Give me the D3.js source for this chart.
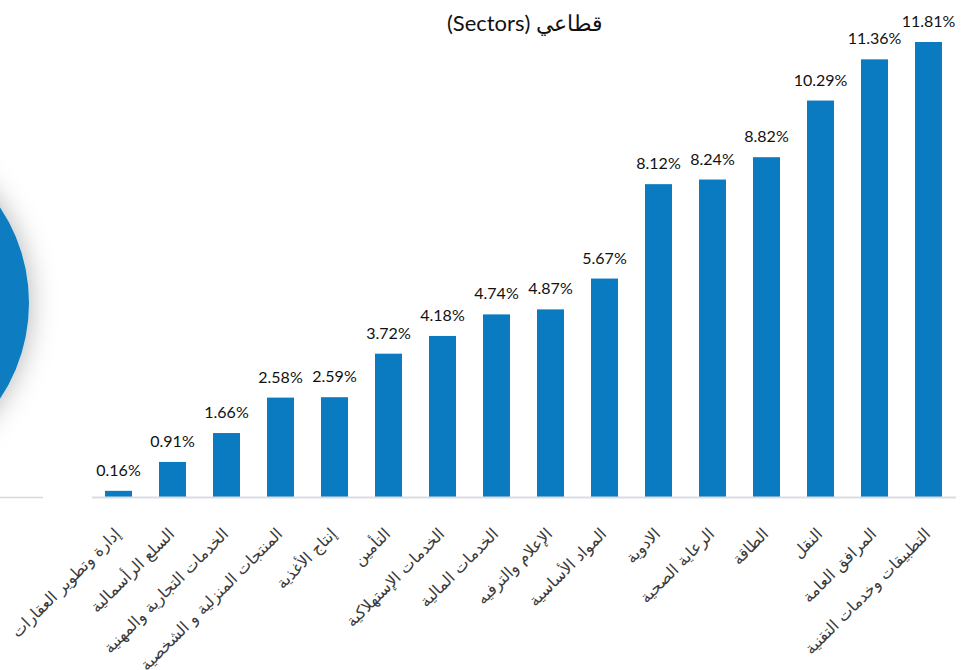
<!DOCTYPE html>
<html>
<head>
<meta charset="utf-8">
<script src="https://cdn.jsdelivr.net/npm/d3@7"></script>
<style>
  html, body { margin: 0; padding: 0; background: #fff; }
  svg { display: block; }
</style>
</head>
<body>
<svg id="chart"></svg>
<script>
// sector names, smallest share first
const sectors = [
  "إدارة وتطوير العقارات",
  "السلع الرأسمالية",
  "الخدمات التجارية والمهنية",
  "المنتجات المنزلية و الشخصية",
  "إنتاج الأغذية",
  "التأمين",
  "الخدمات الإستهلاكية",
  "الخدمات المالية",
  "الإعلام والترفيه",
  "المواد الأساسية",
  "الادوية",
  "الرعاية الصحية",
  "الطاقة",
  "النقل",
  "المرافق العامة",
  "التطبيقات وخدمات التقنية"
];
const shares = [0.16, 0.91, 1.66, 2.58, 2.59, 3.72, 4.18, 4.74, 4.87, 5.67, 8.12, 8.24, 8.82, 10.29, 11.36, 11.81];
const title = "قطاعي (Sectors)";

const size = { width: 964, height: 670 };
const blue = "#0a7bc0";

const svg = d3.select("#chart")
  .attr("width", size.width)
  .attr("height", size.height);

// soft shadow for the circle peeking in from the left
const defs = svg.append("defs");
const shadow = defs.append("filter")
  .attr("id", "glow")
  .attr("x", "-50%").attr("y", "-50%")
  .attr("width", "200%").attr("height", "200%");
shadow.append("feDropShadow")
  .attr("dx", 0).attr("dy", 0)
  .attr("stdDeviation", 14)
  .attr("flood-color", "#000")
  .attr("flood-opacity", 0.3);

svg.append("circle")
  .attr("cx", -144)
  .attr("cy", 303)
  .attr("r", 173)
  .attr("fill", blue)
  .attr("filter", "url(#glow)");

// stray axis of the neighbouring chart
svg.append("line")
  .attr("x1", 0).attr("x2", 43)
  .attr("y1", 497.5).attr("y2", 497.5)
  .attr("stroke", "#d9d9d9")
  .attr("stroke-width", 1.5);

const x = d3.scaleBand()
  .domain(sectors)
  .range([91.5, 955.5])
  .paddingInner(0.5)
  .paddingOuter(0.25);

const y = d3.scaleLinear()
  .domain([0, d3.max(shares)])
  .range([497, 42]);

const data = sectors.map((s, i) => ({ sector: s, value: shares[i] }));

svg.append("g")
  .selectAll("rect")
  .data(data)
  .join("rect")
  .attr("x", d => x(d.sector))
  .attr("y", d => y(d.value))
  .attr("width", x.bandwidth())
  .attr("height", d => y(0) - y(d.value))
  .attr("fill", blue);

// x axis: baseline plus rotated category labels
const xAxis = svg.append("g")
  .attr("transform", `translate(0, ${ y(0) })`)
  .call(d3.axisBottom(x).tickSize(0).tickPadding(0));

xAxis.select(".domain")
  .attr("stroke", "#d9dde3")
  .attr("stroke-width", 2);

xAxis.selectAll(".tick text")
  .attr("transform", "translate(-1, 34) rotate(-45)")
  .attr("dy", "0.35em")
  .attr("x", 0)
  .attr("y", 0)
  .style("text-anchor", "end")
  .style("font-family", "'DejaVu Sans', sans-serif")
  .style("font-size", "16px")
  .style("fill", "#3a3a3a");

// value labels
svg.append("g")
  .selectAll("text")
  .data(data)
  .join("text")
  .attr("x", d => x(d.sector) + x.bandwidth() / 2)
  .attr("y", d => y(d.value) - 15)
  .attr("text-anchor", "middle")
  .style("font-family", "Lato, sans-serif")
  .style("font-size", "16px")
  .style("fill", "#111")
  .text(d => d.value.toFixed(2) + "%");

svg.append("text")
  .attr("x", 525)
  .attr("y", 31)
  .attr("text-anchor", "middle")
  .attr("direction", "rtl")
  .style("font-family", "Lato, sans-serif")
  .style("font-size", "22px")
  .style("fill", "#111")
  .text(title);
</script>
</body>
</html>
